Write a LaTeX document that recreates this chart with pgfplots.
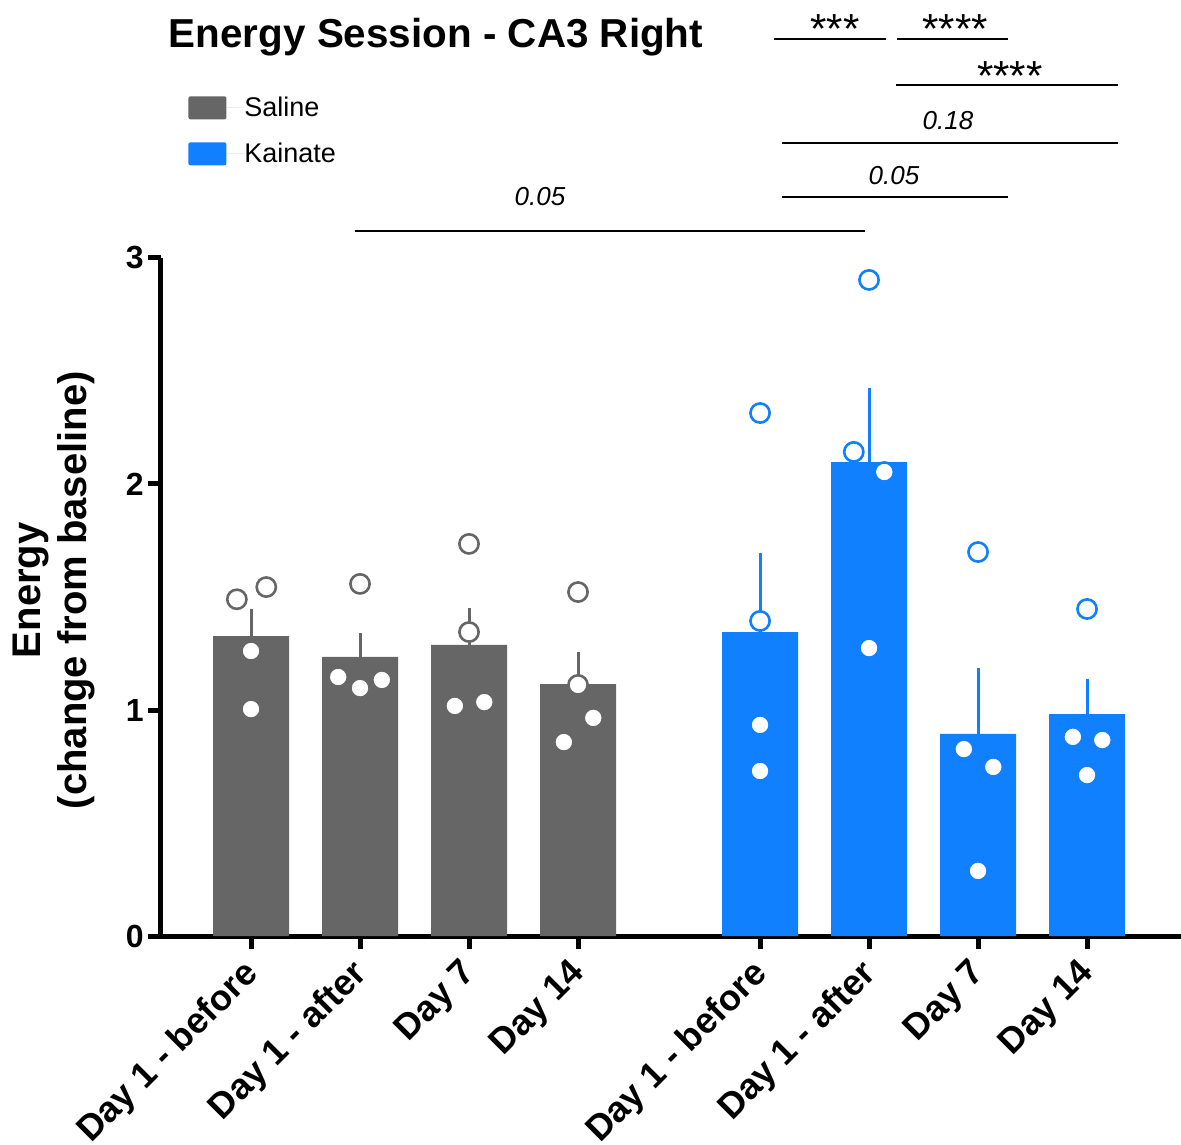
\documentclass[border=0pt]{standalone}
\usepackage{fontspec}
\setmainfont{Liberation Sans}
\usepackage{pgfplots}
\pgfplotsset{compat=1.18}
\definecolor{salgray}{HTML}{666666}
\definecolor{kaiblue}{RGB}{17,128,255}
\newcommand{\fs}[1]{\fontsize{#1}{#1}\selectfont}
\begin{document}
\begin{tikzpicture}
\useasboundingbox (-80.5pt,-104pt) rectangle (510pt,468pt);
\begin{axis}[
  at={(0,0)}, anchor=south west,
  scale only axis, width=510pt, height=339pt,
  xmin=0.174, xmax=9.532, ymin=0, ymax=3,
  clip=false,
  axis lines*=left,
  axis line style={line width=2.5pt, black},
  tick align=outside,
  major tick length=6.5pt,
  every tick/.style={line width=2.5pt, black},
  ytick={0,1,2,3},
  xtick={1,2,3,4,5.67,6.67,7.67,8.67},
  xticklabels={Day 1 - before, Day 1 - after, Day 7, Day 14, Day 1 - before, Day 1 - after, Day 7, Day 14},
  /pgf/number format/assume math mode=true,
  yticklabel style={font=\bfseries\fs{16}, inner sep=2pt},
  xticklabel style={font=\bfseries\fs{18}, rotate=45, anchor=north east, inner sep=1pt, xshift=-5.1pt, yshift=1.8pt},
  ylabel={Energy\\(change from baseline)},
  ylabel style={align=center, font=\bfseries\fontsize{20}{23}\selectfont, at={(axis description cs:-0.058,0.51)}, anchor=south},
  legend style={draw=none, fill=none, inner sep=0pt, at={(axis description cs:0.0265,1.239)}, anchor=north west,
    font=\fs{13.5}, row sep=11.5pt, nodes={inner sep=0pt, anchor=west}},
  legend cell align=left,
  legend image code/.code={\fill[#1, rounded corners=1pt] (0pt,-5.75pt) rectangle (19pt,5.75pt);\path (19pt,0) -- (28pt,0);},
]
% bars
\addplot[ybar, bar width=38pt, bar shift=0pt, fill=salgray, draw=none,
  error bars/.cd, y dir=plus, y explicit, error mark=none,
  error bar style={draw=salgray, solid, line width=1.5pt}]
  coordinates {(1,1.327) +- (0,0.120) (2,1.235) +- (0,0.106) (3,1.288) +- (0,0.163) (4,1.115) +- (0,0.142)};
\addlegendentry{Saline}
\addplot[ybar, bar width=38pt, bar shift=0pt, fill=kaiblue, draw=none,
  error bars/.cd, y dir=plus, y explicit, error mark=none,
  error bar style={draw=kaiblue, solid, line width=1.5pt}]
  coordinates {(5.67,1.345) +- (0,0.350) (6.67,2.097) +- (0,0.328) (7.67,0.894) +- (0,0.292) (8.67,0.982) +- (0,0.155)};
\addlegendentry{Kainate}
% points
\addplot[forget plot, only marks, mark=*, mark size=4.8pt, mark options={fill=white, draw=salgray, line width=1.3pt}]
  coordinates {(0.87,1.490) (1.14,1.544) (1,1.261) (1,1.004)
               (2,1.558) (1.8,1.146) (2,1.097) (2.2,1.133)
               (3,1.735) (3,1.345) (2.87,1.018) (3.14,1.035)
               (4,1.522) (4,1.111) (3.87,0.858) (4.14,0.965)};
\addplot[forget plot, only marks, mark=*, mark size=4.8pt, mark options={fill=white, draw=kaiblue, line width=1.3pt}]
  coordinates {(5.67,2.314) (5.67,1.394) (5.67,0.934) (5.67,0.730)
               (6.67,2.903) (6.53,2.142) (6.81,2.053) (6.67,1.274)
               (7.67,1.699) (7.54,0.827) (7.81,0.748) (7.67,0.288)
               (8.67,1.447) (8.54,0.881) (8.81,0.867) (8.67,0.712)};
% significance lines
\addplot[forget plot, black, line width=0.8pt] coordinates {(1.954,3.119) (6.633,3.119)};
\addplot[forget plot, black, line width=0.8pt] coordinates {(5.872,3.270) (7.945,3.270)};
\addplot[forget plot, black, line width=0.8pt] coordinates {(5.872,3.509) (8.954,3.509)};
\addplot[forget plot, black, line width=0.8pt] coordinates {(6.917,3.765) (8.954,3.765)};
\addplot[forget plot, black, line width=0.8pt] coordinates {(5.798,3.969) (6.826,3.969)};
\addplot[forget plot, black, line width=0.8pt] coordinates {(6.927,3.969) (7.945,3.969)};
\node[font=\itshape\fs{13}] at (axis cs:3.651,3.27) {0.05};
\node[font=\itshape\fs{13}] at (axis cs:6.899,3.367) {0.05};
\node[font=\itshape\fs{13}] at (axis cs:7.394,3.606) {0.18};
\node[font=\fs{21}] at (axis cs:7.963,3.805) {****};
\node[font=\fs{21}] at (axis cs:6.358,4.013) {***};
\node[font=\fs{21}] at (axis cs:7.459,4.013) {****};
\node[font=\bfseries\fs{20.2}] at (axis cs:2.697,3.978) {Energy Session - CA3 Right};
\end{axis}
\end{tikzpicture}
\end{document}
